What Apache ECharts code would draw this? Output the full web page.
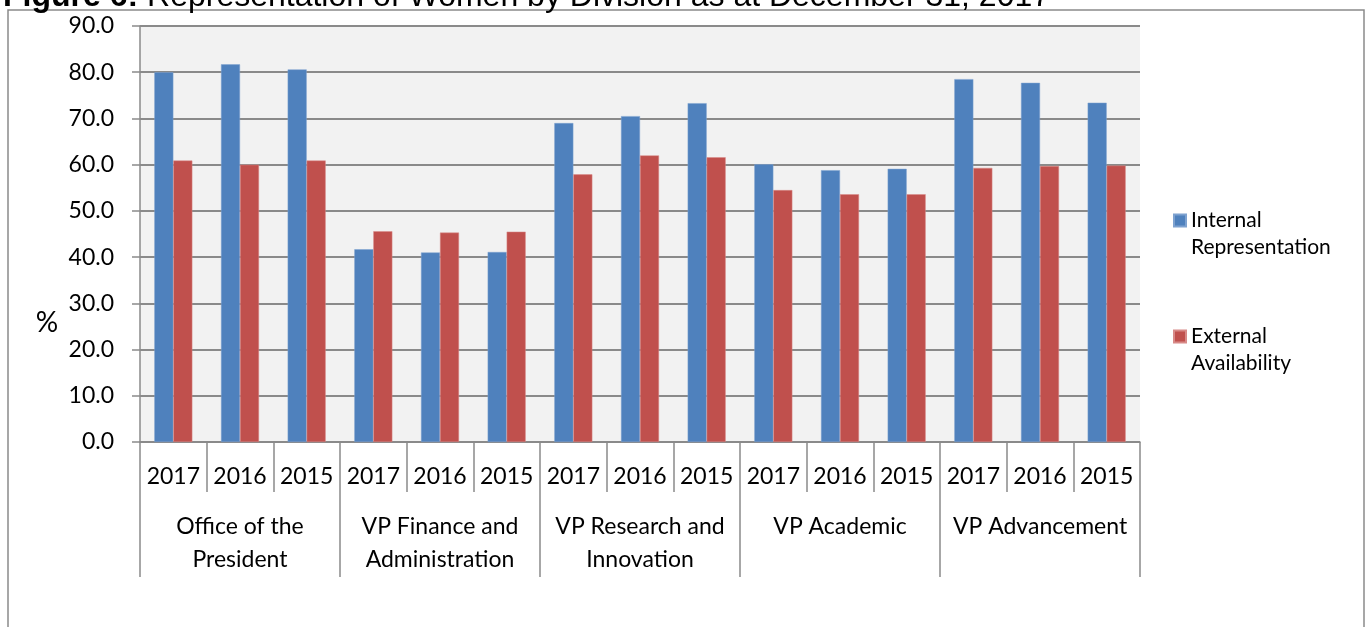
<!DOCTYPE html>
<html>
<head>
<meta charset="utf-8">
<script src="https://cdn.jsdelivr.net/npm/echarts@6/dist/echarts.min.js"></script>
<style>
  html, body { margin: 0; padding: 0; background: #fff; }
  #main { width: 1369px; height: 627px; }
</style>
</head>
<body>
<div id="main"></div>
<script>
// divisions and years (two-level category axis)
var divisions = ['Office of the\nPresident', 'VP Finance and\nAdministration', 'VP Research and\nInnovation', 'VP Academic', 'VP Advancement'];
var years = ['2017', '2016', '2015'];

// % women, in division/year order
var internalRep = [80.0, 81.7, 80.6, 41.7, 41.0, 41.1, 69.0, 70.5, 73.3, 60.1, 58.8, 59.1, 78.5, 77.7, 73.4];
var externalAvail = [60.9, 60.0, 60.9, 45.6, 45.3, 45.5, 57.9, 62.0, 61.6, 54.5, 53.6, 53.6, 59.3, 59.7, 59.8];

var FONT = 'Lato, "Open Sans", sans-serif';
var GRID_COLOR = '#8a8a8a';

var yearCats = [];
for (var i = 0; i < divisions.length; i++) {
    for (var j = 0; j < years.length; j++) {
        yearCats.push(years[j]);
    }
}

var myChart = echarts.init(document.getElementById('main'));

var option = {
    animation: false,
    backgroundColor: '#fff',
    textStyle: { fontFamily: FONT },
    title: {
        left: -2,
        top: -24,
        text: '{b|Figure 6:} Representation of Women by Division as at December 31, 2017',
        textStyle: {
            fontFamily: 'Liberation Sans, Arial, sans-serif',
            fontSize: 32,
            fontWeight: 'normal',
            color: '#000',
            rich: {
                b: { fontFamily: 'Liberation Sans, Arial, sans-serif', fontSize: 32, fontWeight: 'bold', color: '#000' }
            }
        }
    },
    graphic: [{
        type: 'rect',
        shape: { x: 8, y: 10, width: 1356, height: 650 },
        style: { fill: 'none', stroke: '#8a8a8a', lineWidth: 1.5 },
        silent: true
    }, {
        type: 'text',
        x: 47,
        y: 323,
        style: { text: '%', fontSize: 28, fontFamily: FONT, fill: '#000', align: 'center', verticalAlign: 'middle' },
        silent: true
    }],
    legend: {
        orient: 'vertical',
        left: 1168,
        top: 175,
        itemWidth: 12,
        itemHeight: 12,
        itemGap: 35,
        icon: 'rect',
        data: ['Internal\nRepresentation', 'External\nAvailability'],
        // blank first line so the marker sits on the first text line
        formatter: function (name) { return ' \n' + name; },
        textStyle: {
            fontFamily: FONT,
            fontSize: 21,
            color: '#000',
            lineHeight: 27
        }
    },
    grid: {
        left: 140,
        right: 229,
        top: 26,
        bottom: 185,
        show: true,
        backgroundColor: '#f2f2f2',
        borderWidth: 0
    },
    xAxis: [{
        type: 'category',
        position: 'bottom',
        data: yearCats,
        axisLine: { lineStyle: { color: GRID_COLOR, width: 1.5 } },
        axisTick: { show: true, interval: 0, length: 50, lineStyle: { color: GRID_COLOR, width: 1.5 } },
        axisLabel: { interval: 0, margin: 23, fontSize: 23, color: '#000', fontFamily: FONT }
    }, {
        type: 'category',
        position: 'bottom',
        data: divisions,
        axisLine: { show: false },
        axisTick: { show: true, interval: 0, length: 135, lineStyle: { color: GRID_COLOR, width: 1.5 } },
        axisLabel: {
            interval: 0,
            margin: 68,
            fontSize: 23,
            lineHeight: 33,
            verticalAlign: 'top',
            color: '#000',
            fontFamily: FONT
        }
    }],
    yAxis: {
        type: 'value',
        min: 0,
        max: 90,
        interval: 10,
        axisLine: { show: true, lineStyle: { color: GRID_COLOR, width: 1.5 } },
        axisTick: { show: true, length: 8, lineStyle: { color: GRID_COLOR, width: 1.5 } },
        axisLabel: {
            margin: 26,
            fontSize: 23,
            color: '#000',
            fontFamily: FONT,
            formatter: function (v) { return v.toFixed(1); }
        },
        splitLine: { lineStyle: { color: GRID_COLOR, width: 2 } }
    },
    series: [{
        name: 'Internal\nRepresentation',
        type: 'bar',
        xAxisIndex: 0,
        barWidth: 19,
        barGap: '0%',
        itemStyle: { color: '#4f81bd', borderColor: '#7ea2d0', borderWidth: 0.5 },
        data: internalRep
    }, {
        name: 'External\nAvailability',
        type: 'bar',
        xAxisIndex: 0,
        barWidth: 19,
        barGap: '0%',
        itemStyle: { color: '#c0504d', borderColor: '#d88a88', borderWidth: 0.5 },
        data: externalAvail
    }]
};

myChart.setOption(option);
</script>
</body>
</html>
